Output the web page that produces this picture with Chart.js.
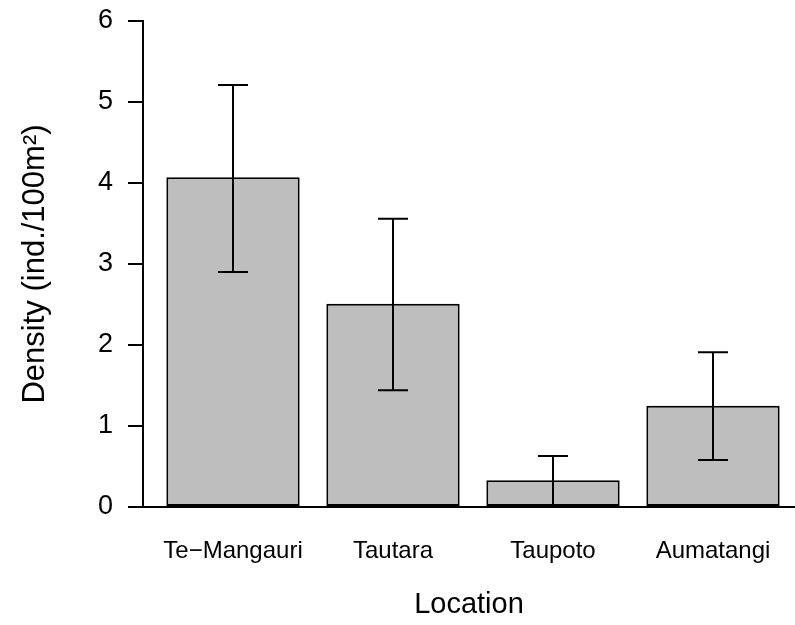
<!DOCTYPE html>
<html>
<head>
<meta charset="utf-8">
<script src="https://cdn.jsdelivr.net/npm/chart.js@4"></script>
<style>
  html, body { margin: 0; padding: 0; background: #fff; }
  #wrap { width: 795px; height: 625px; }
</style>
</head>
<body>
<div id="wrap"><canvas id="grafico" width="795" height="625"></canvas></div>
<script>
// Datos
const locations = ['Te\u2212Mangauri', 'Tautara', 'Taupoto', 'Aumatangi'];
const density = [4.07, 2.51, 0.33, 1.25];
const errLow = [2.90, 1.44, 0.02, 0.58];
const errHigh = [5.21, 3.56, 0.63, 1.91];
const yTicks = [0, 1, 2, 3, 4, 5, 6];

const fuente = 'Liberation Sans, Arial, sans-serif';

// Plugin para dibujar las barras de error
const errorBars = {
    id: 'errorBars',
    afterDatasetsDraw(chart) {
        const ctx = chart.ctx;
        const xs = chart.scales.x;
        const ys = chart.scales.y;
        ctx.save();
        ctx.strokeStyle = '#000';
        ctx.lineWidth = 2;
        density.forEach((v, i) => {
            const x = xs.getPixelForValue(i);
            const yl = ys.getPixelForValue(errLow[i]);
            const yh = ys.getPixelForValue(errHigh[i]);
            ctx.beginPath();
            ctx.moveTo(x, yl);
            ctx.lineTo(x, yh);
            ctx.moveTo(x - 15, yh);
            ctx.lineTo(x + 15, yh);
            ctx.moveTo(x - 15, yl);
            ctx.lineTo(x + 15, yl);
            ctx.stroke();
        });
        ctx.restore();
    }
};

const ctx = document.getElementById('grafico').getContext('2d');
new Chart(ctx, {
    type: 'bar',
    data: {
        datasets: [{
            data: density.map((v, i) => ({ x: i, y: v })),
            backgroundColor: '#bebebe',
            borderColor: '#000',
            borderWidth: 2,
            borderSkipped: false,
            categoryPercentage: 1,
            barPercentage: 1 / 1.2
        }]
    },
    options: {
        responsive: false,
        devicePixelRatio: 1,
        animation: false,
        layout: { padding: { top: 21, right: 0, bottom: 0, left: 0 } },
        plugins: {
            legend: { display: false },
            tooltip: { enabled: false }
        },
        scales: {
            x: {
                type: 'linear',
                offset: false,
                bounds: 'data',
                min: -0.5625,
                max: 3.5125,
                afterBuildTicks: (axis) => {
                    axis.ticks = locations.map((_, i) => ({ value: i }));
                },
                afterFit: (axis) => { axis.height = 118; },
                grid: { display: false },
                border: { display: true, color: '#000', width: 2 },
                ticks: {
                    autoSkip: false,
                    maxRotation: 0,
                    padding: 22,
                    color: '#000',
                    font: { family: fuente, size: 24 },
                    callback: (value) => locations[value]
                },
                title: {
                    display: true,
                    text: 'Location',
                    color: '#000',
                    font: { family: fuente, size: 29 },
                    padding: { top: 0, bottom: 3 }
                }
            },
            y: {
                min: 0,
                max: 6,
                afterBuildTicks: (axis) => {
                    axis.ticks = yTicks.map(v => ({ value: v }));
                },
                afterFit: (axis) => {
                    axis.width = 143;
                    axis.paddingTop = 0;
                    axis.paddingBottom = 0;
                },
                grid: {
                    drawOnChartArea: false,
                    drawTicks: true,
                    tickLength: 15,
                    color: '#000',
                    lineWidth: 2
                },
                border: { display: true, color: '#000', width: 2 },
                ticks: {
                    padding: 15,
                    color: '#000',
                    font: { family: fuente, size: 27 }
                },
                title: {
                    display: true,
                    text: 'Density (ind./100m\u00b2)',
                    color: '#000',
                    font: { family: fuente, size: 31 },
                    padding: { top: 17, bottom: 0 }
                }
            }
        }
    },
    plugins: [errorBars]
});
</script>
</body>
</html>
